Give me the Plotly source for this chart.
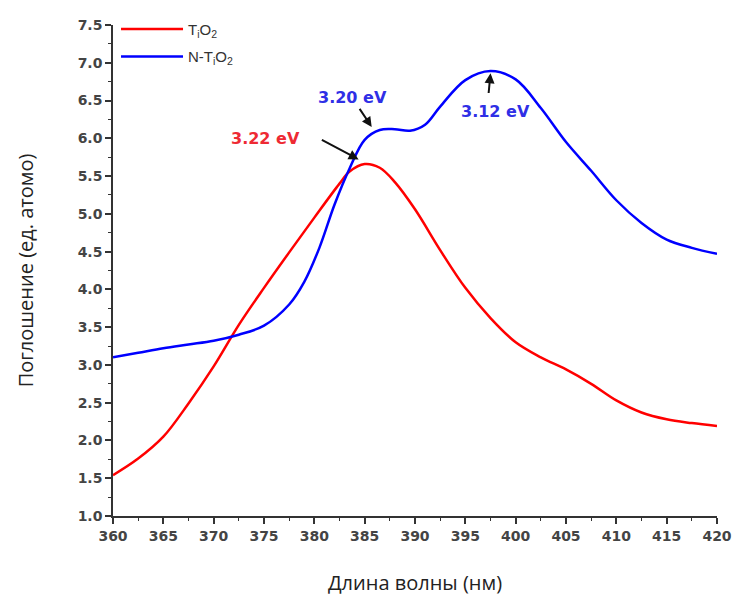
import plotly.graph_objects as go

# TiO2 (red)
x_tio2 = [360, 362.5, 365, 367.5, 370, 372.5, 375, 377.5, 380, 382.5, 383.5, 385, 386.5,
          388, 390, 392.5, 395, 397.5, 400, 402.5, 405, 407.5, 410, 412.5, 415, 417.5, 420]
y_tio2 = [1.54, 1.76, 2.05, 2.49, 2.98, 3.53, 4.02, 4.49, 4.95, 5.40, 5.56, 5.66, 5.61,
          5.42, 5.06, 4.52, 4.02, 3.62, 3.30, 3.10, 2.94, 2.75, 2.53, 2.37, 2.28, 2.23, 2.19]

# N-TiO2 (blue)
x_ntio2 = [360, 362.5, 365, 367.5, 370, 372.5, 375, 377.5, 379, 380.5, 382, 383.5, 385,
           386.5, 388, 389.5, 391, 392.5, 395, 397.5, 400, 402.5, 405, 407.5, 410,
           412.5, 415, 417.5, 420]
y_ntio2 = [3.10, 3.16, 3.22, 3.27, 3.32, 3.40, 3.52, 3.80, 4.10, 4.55, 5.12, 5.60, 5.98,
           6.11, 6.12, 6.10, 6.18, 6.42, 6.77, 6.89, 6.78, 6.40, 5.95, 5.57, 5.18,
           4.88, 4.66, 4.55, 4.47]

# annotations: (label, text_x, text_y, arrow_tail_x, arrow_tail_y, arrow_head_x, arrow_head_y, color)
notes = [
    ("3.22 eV", 375.1, 6.0, 380.6, 5.99, 384.4, 5.72, "#ee2a33"),
    ("3.20 eV", 383.8, 6.54, 384.4, 6.41, 385.7, 6.15, "#2f2fe6"),
    ("3.12 eV", 398.0, 6.36, 397.3, 6.58, 397.5, 6.86, "#2f2fe6"),
]

fig = go.Figure()
fig.add_trace(go.Scatter(x=x_tio2, y=y_tio2, mode="lines", name="T<sub>i</sub>O<sub>2</sub>",
                         line=dict(color="#ff0000", width=2.5, shape="spline", smoothing=1.0),
                         legendgroup="a"))
fig.add_trace(go.Scatter(x=x_ntio2, y=y_ntio2, mode="lines", name="N-T<sub>i</sub>O<sub>2</sub>",
                         line=dict(color="#0000ff", width=2.5, shape="spline", smoothing=1.0),
                         legendgroup="b"))

for label, tx, ty, ax0, ay0, hx, hy, col in notes:
    fig.add_annotation(x=tx, y=ty, text=label, showarrow=False,
                       font=dict(family="DejaVu Sans", size=16, color=col, weight="bold"),
                       xref="x", yref="y")
    fig.add_annotation(x=hx, y=hy, ax=ax0, ay=ay0, axref="x", ayref="y", xref="x", yref="y",
                       text="", showarrow=True, arrowhead=2, arrowsize=1, arrowwidth=2,
                       arrowcolor="#111111", standoff=0, startstandoff=0)

tickfont = dict(family="DejaVu Sans", size=14, color="#444444", weight="bold")
titlefont = dict(family="Open Sans, Noto Sans, sans-serif", size=20, color="#222222")

fig.update_layout(
    width=737, height=605,
    margin=dict(l=113, r=20, t=25, b=89),
    plot_bgcolor="white", paper_bgcolor="white",
    legend=dict(x=0.005, y=1.025, xanchor="left", yanchor="top", tracegroupgap=5,
                itemwidth=62,
                font=dict(family="Arial, Liberation Sans, sans-serif", size=15, color="#333333"),
                bgcolor="rgba(0,0,0,0)"),
    xaxis=dict(range=[360, 420], dtick=5, tick0=360, showline=True, linecolor="#333333",
               linewidth=1.5, ticks="outside", ticklen=6, tickwidth=1.5, tickcolor="#333333",
               minor=dict(dtick=2.5, ticks="outside", ticklen=3, tickwidth=1.2, tickcolor="#333333"),
               showgrid=False, zeroline=False, tickfont=tickfont, automargin="height",
               title=dict(text="Длина волны (нм)", font=titlefont, standoff=33)),
    yaxis=dict(range=[1, 7.5], dtick=0.5, tick0=1, tickformat=".1f", showline=True,
               linecolor="#333333", linewidth=1.5, ticks="outside", ticklen=6, tickwidth=1.5,
               tickcolor="#333333",
               minor=dict(dtick=0.25, ticks="outside", ticklen=3, tickwidth=1.2, tickcolor="#333333"),
               showgrid=False, zeroline=False, tickfont=tickfont, automargin="width",
               title=dict(text="Поглошение (ед. атомо)", font=titlefont, standoff=39)),
)

fig.write_html("out.html")
